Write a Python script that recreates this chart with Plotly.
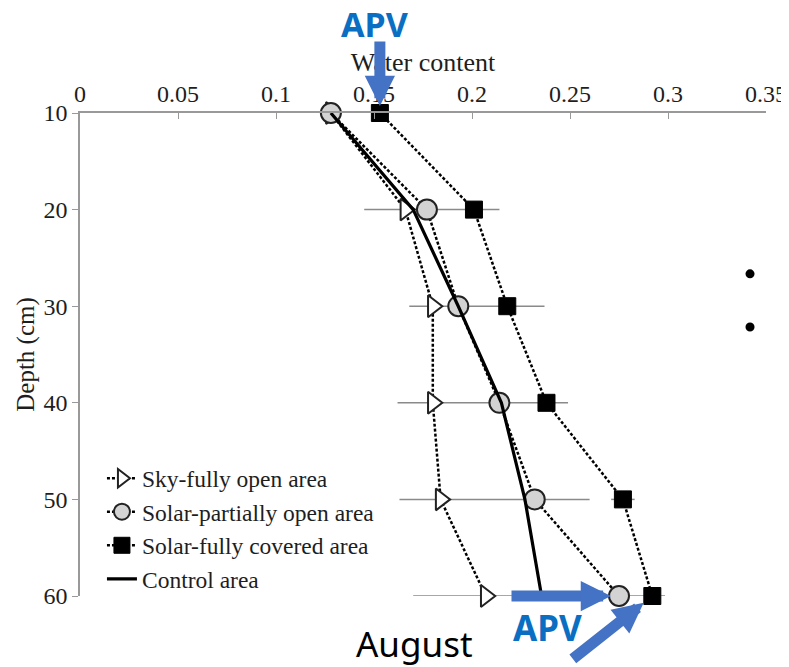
import plotly.graph_objects as go

# ── Data ────────────────────────────────────────────────────────────────────────
DEPTH = [10, 20, 30, 40, 50, 60]

SKY_OPEN = [0.128, 0.166, 0.180, 0.180, 0.184, 0.207]
SOLAR_PARTIAL = [0.128, 0.177, 0.193, 0.214, 0.232, 0.275]
SOLAR_COVERED = [0.153, 0.201, 0.218, 0.238, 0.277, 0.292]
CONTROL = [0.128, 0.170, 0.193, 0.215, 0.227, 0.2355]

# horizontal error spans (low / high) at each depth
ERR_DEPTH = [20, 30, 40, 50, 50, 60]
ERR_LO = [0.145, 0.168, 0.162, 0.163, 0.271, 0.170]
ERR_HI = [0.214, 0.237, 0.249, 0.260, 0.283, 0.2985]

X_TICKS = [0, 0.05, 0.1, 0.15, 0.2, 0.25, 0.3, 0.35]
X_TICK_TEXT = ["0", "0.05", "0.1", "0.15", "0.2", "0.25", "0.3", "0.35"]

SERIF = "Liberation Serif, Times New Roman, serif"
SANS = "Noto Sans, Open Sans, sans-serif"
BLUE_TXT = "#0a6fc2"
BLUE_ARROW = "#4472C4"
AXIS_GREY = "#999999"
INK = "#1e1e1e"

DOTS = "3px,2px"

fig = go.Figure()

# error spans
ex, ey = [], []
for d, lo, hi in zip(ERR_DEPTH, ERR_LO, ERR_HI):
    ex += [lo, hi, None]
    ey += [d, d, None]
fig.add_trace(go.Scatter(
    x=ex, y=ey, mode="lines",
    line=dict(color="#8a8a8a", width=1.5),
    showlegend=False, hoverinfo="skip",
))

fig.add_trace(go.Scatter(
    x=SKY_OPEN, y=DEPTH, mode="lines+markers",
    name="Sky-fully open area",
    line=dict(color="black", width=2.5, dash=DOTS),
    marker=dict(symbol="triangle-right", size=19, color="white",
                line=dict(color="#222", width=2)),
    cliponaxis=False,
))
fig.add_trace(go.Scatter(
    x=SOLAR_PARTIAL, y=DEPTH, mode="lines+markers",
    name="Solar-partially open area",
    line=dict(color="black", width=2.5, dash=DOTS),
    marker=dict(symbol="circle", size=20, color="#d3d3d3",
                line=dict(color="#222", width=2)),
    cliponaxis=False,
))
fig.add_trace(go.Scatter(
    x=SOLAR_COVERED, y=DEPTH, mode="lines+markers",
    name="Solar-fully covered area",
    line=dict(color="black", width=2.5, dash=DOTS),
    marker=dict(symbol="square", size=17, color="black",
                line=dict(color="black", width=1)),
    cliponaxis=False,
))
fig.add_trace(go.Scatter(
    x=CONTROL, y=DEPTH, mode="lines",
    name="Control area",
    line=dict(color="black", width=3.2),
    cliponaxis=False,
))

ARROW = dict(xref="x", yref="y", axref="pixel", ayref="pixel",
             showarrow=True, arrowhead=2, arrowsize=0.55, arrowwidth=11,
             arrowcolor=BLUE_ARROW, text="")
LABEL = dict(xref="paper", yref="paper", showarrow=False,
             xanchor="center", yanchor="middle")

annotations = [
    # APV arrows
    dict(ARROW, x=SOLAR_COVERED[0], y=DEPTH[0], ax=0, ay=-73, standoff=7),
    dict(ARROW, x=SOLAR_PARTIAL[-1], y=DEPTH[-1], ax=-109, ay=0, standoff=8),
    dict(ARROW, x=SOLAR_COVERED[-1], y=DEPTH[-1], ax=-81, ay=64, standoff=11),
    dict(LABEL, x=0.430, y=1.184, text="<b>APV</b>",
         font=dict(family=SANS, size=34, color=BLUE_TXT)),
    dict(LABEL, x=0.682, y=-0.066, text="<b>APV</b>",
         font=dict(family=SANS, size=35, color=BLUE_TXT)),
    dict(LABEL, x=0.488, y=-0.099, text="August",
         font=dict(family=SANS, size=35, color="black")),
]

# slide bullets
shapes = []
for by in (0.667, 0.557):
    shapes.append(dict(type="circle", xref="paper", yref="paper",
                       x0=0.9767 - 0.0066, x1=0.9767 + 0.0066,
                       y0=by - 0.0093, y1=by + 0.0093,
                       fillcolor="black", line=dict(width=0)))

fig.update_layout(
    width=781, height=659,
    paper_bgcolor="white", plot_bgcolor="white",
    margin=dict(l=72, r=23, t=105, b=71),
    font=dict(family=SERIF, color=INK),
    showlegend=True,
    legend=dict(
        x=0.032, y=0.289, xanchor="left", yanchor="top",
        bgcolor="rgba(255,255,255,0)",
        font=dict(family=SERIF, size=23.5, color=INK),
        tracegroupgap=0, itemwidth=30,
    ),
    xaxis=dict(
        side="top", range=[0, 0.35], automargin=False,
        tickvals=X_TICKS, ticktext=X_TICK_TEXT,
        ticks="inside", ticklen=6, tickcolor=AXIS_GREY,
        showline=True, linecolor=AXIS_GREY, linewidth=1.5,
        showgrid=False, zeroline=False,
        tickfont=dict(family=SERIF, size=24, color=INK),
        title=dict(text="Water content", standoff=2,
                   font=dict(family=SERIF, size=26, color=INK)),
    ),
    yaxis=dict(
        range=[60, 10], automargin=False,
        tickvals=DEPTH,
        ticks="outside", ticklen=6, tickcolor=AXIS_GREY,
        showline=True, linecolor=AXIS_GREY, linewidth=1.5,
        showgrid=False, zeroline=False,
        tickfont=dict(family=SERIF, size=24, color=INK),
        title=dict(text="Depth (cm)", standoff=2,
                   font=dict(family=SERIF, size=25, color=INK)),
    ),
    annotations=annotations,
    shapes=shapes,
)

fig.write_html("out.html")
